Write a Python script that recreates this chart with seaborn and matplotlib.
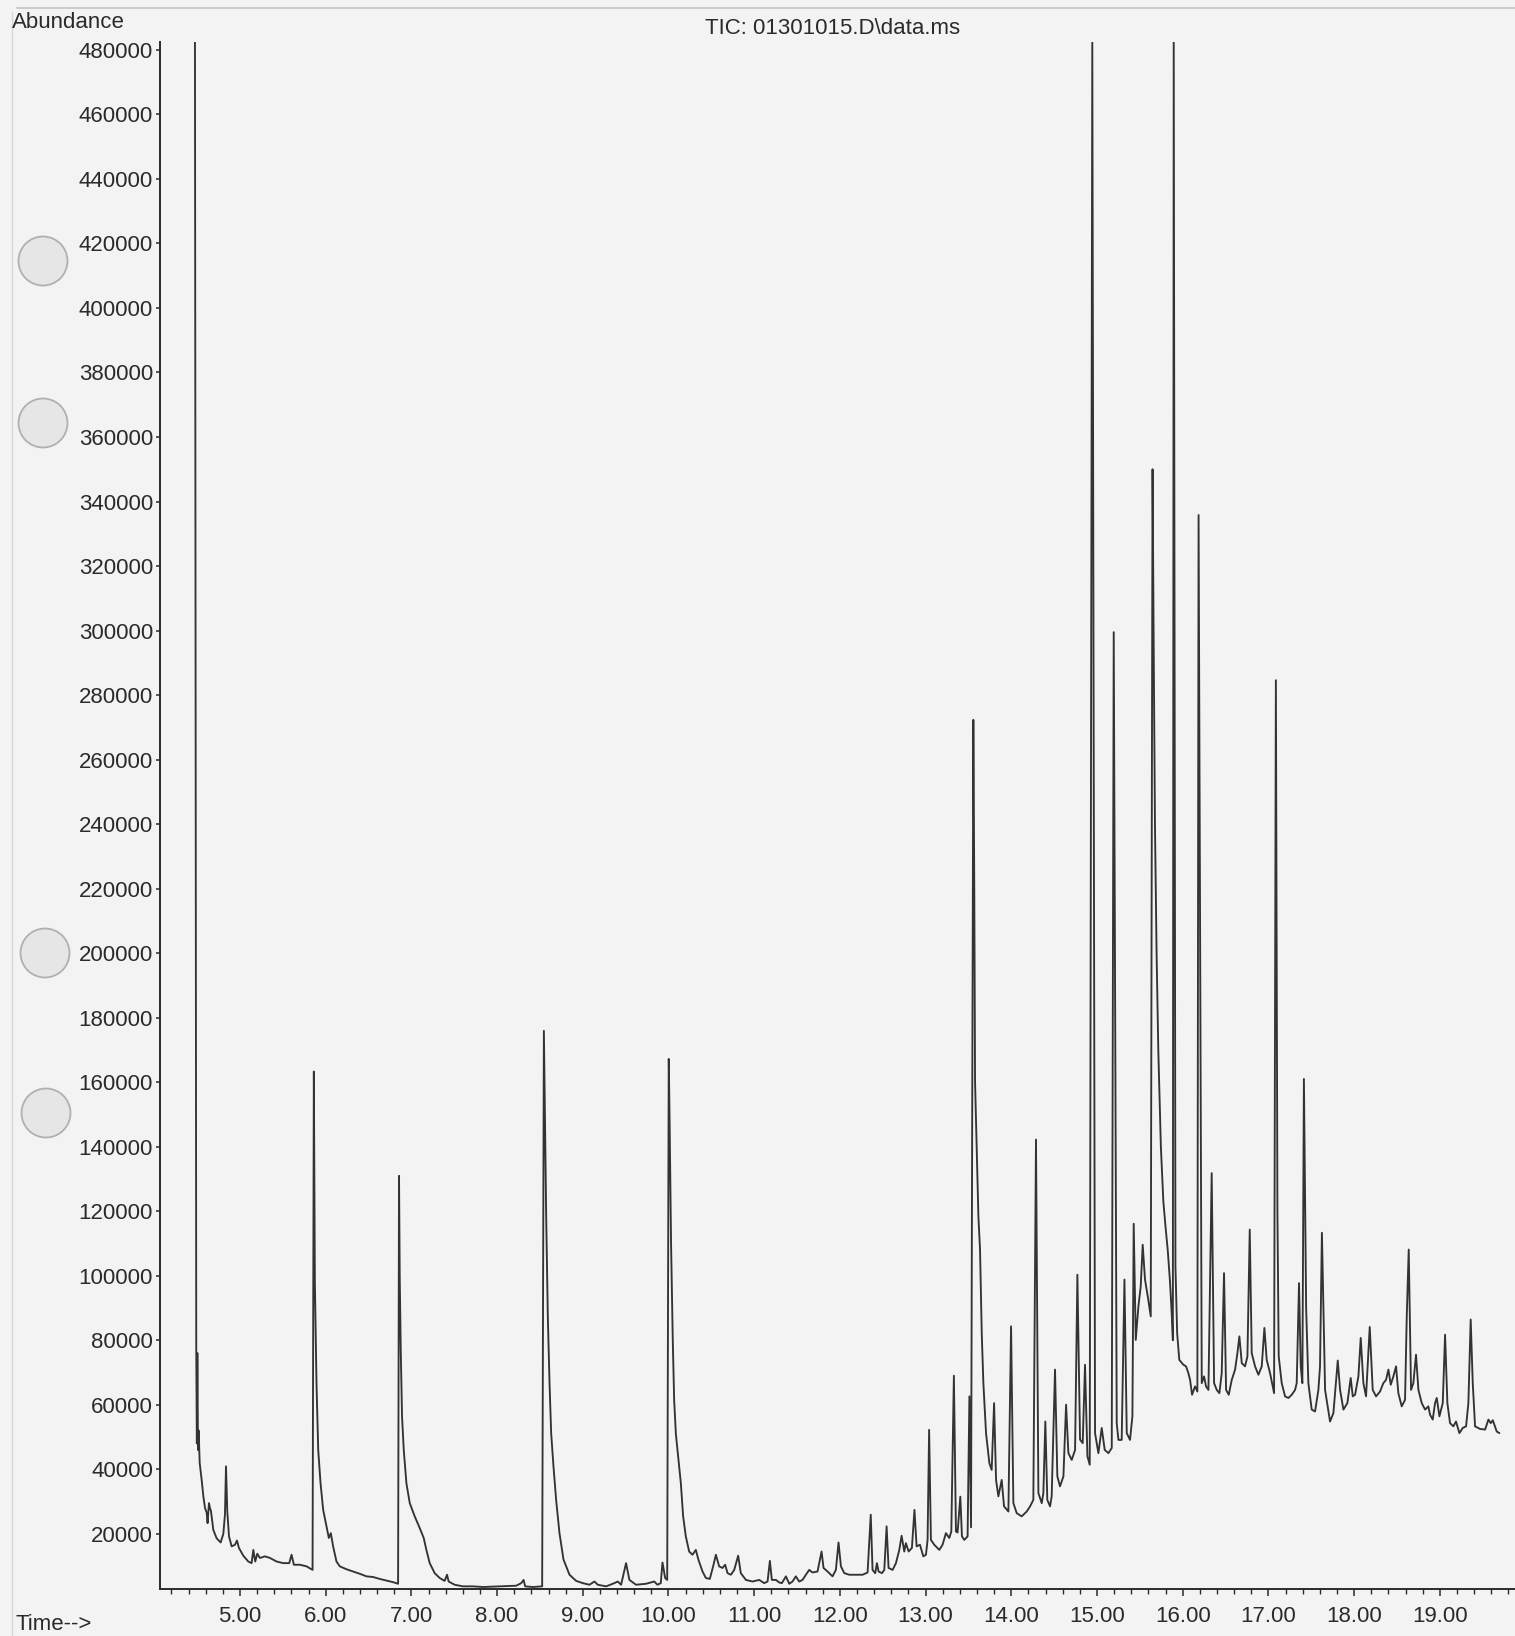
import numpy as np
import pandas as pd
import matplotlib
matplotlib.use("Agg")
import matplotlib.pyplot as plt
import seaborn as sns
from matplotlib.patches import Circle
from matplotlib.lines import Line2D
from matplotlib.ticker import FixedLocator, MultipleLocator

# ---------------- data ----------------
CLIP = 483000  # peaks running off the top of the plot

time_early = [4.475, 4.490, 4.497, 4.503, 4.510, 4.518, 4.530, 4.553, 4.573, 4.592,
              4.612, 4.622, 4.638, 4.650, 4.662, 4.689, 4.728, 4.775, 4.806, 4.825,
              4.837, 4.852, 4.872, 4.903, 4.942, 4.965, 4.988, 5.039, 5.097, 5.136,
              5.156, 5.178, 5.202, 5.233, 5.291, 5.350, 5.427, 5.505, 5.575, 5.602,
              5.629, 5.699, 5.777, 5.847, 5.862, 5.874, 5.893, 5.913, 5.940, 5.971,
              6.010, 6.037, 6.060, 6.087, 6.126, 6.165, 6.243, 6.320, 6.398, 6.476,
              6.553, 6.631, 6.709, 6.786, 6.845, 6.856, 6.864, 6.876, 6.891, 6.911,
              6.942, 6.981, 7.039, 7.097, 7.144, 7.175, 7.214, 7.272, 7.330, 7.388,
              7.416, 7.435, 7.505, 7.602, 7.718, 7.835, 8.029, 8.223, 8.282, 8.309,
              8.328, 8.417, 8.526]
abund_early = [CLIP, 77000, 48000, 76000, 46000, 52000, 42000, 36700, 31600, 28000,
               26500, 23300, 29500, 28000, 27000, 21200, 18600, 17300, 20000, 26000,
               40900, 27000, 19200, 16100, 16600, 17900, 15600, 13200, 11400, 10900,
               15000, 11400, 13800, 12500, 13000, 12500, 11400, 10900, 10900, 13500,
               10400, 10400, 9900, 8800, 163300, 97700, 66700, 46000, 35700, 27400,
               22300, 18700, 20200, 16100, 11400, 9900, 9000, 8300, 7600, 6800,
               6600, 6000, 5500, 5000, 4500, 130950, 99800, 77000, 56400, 46000,
               35700, 29500, 25400, 21800, 18700, 15000, 10900, 7800, 6300, 5400,
               7300, 5200, 4200, 3700, 3700, 3500, 3700, 3900, 4700, 5700,
               3700, 3500, 3700]

time_mid = [8.546, 8.573, 8.592, 8.612, 8.631, 8.658, 8.689, 8.728, 8.775, 8.845,
            8.922, 9.000, 9.078, 9.136, 9.175, 9.272, 9.369, 9.408, 9.447, 9.505,
            9.544, 9.621, 9.738, 9.833, 9.872, 9.910, 9.930, 9.961, 9.985, 10.003,
            10.012, 10.030, 10.050, 10.066, 10.086, 10.105, 10.144, 10.171, 10.202, 10.241,
            10.280, 10.319, 10.350, 10.397, 10.436, 10.482, 10.521, 10.553, 10.591, 10.630,
            10.661, 10.689, 10.728, 10.767, 10.813, 10.844, 10.903, 10.981, 11.058, 11.117,
            11.156, 11.183, 11.206, 11.253, 11.292, 11.323, 11.370, 11.409, 11.447, 11.486,
            11.525, 11.564, 11.603, 11.642, 11.681, 11.739, 11.786, 11.809, 11.856, 11.914,
            11.953, 11.984, 12.012, 12.051, 12.109, 12.187]
abund_mid = [175900, 118400, 87400, 66700, 51200, 40900, 30500, 20200, 12000, 7300,
             5400, 4700, 4200, 5200, 4200, 3700, 4700, 5200, 4200, 10900,
             5700, 4200, 4500, 5200, 4200, 4700, 11100, 6300, 5700, 167200,
             150000, 110000, 80000, 61500, 51000, 46000, 35700, 25400, 19200, 14500,
             13500, 15000, 11900, 8300, 6300, 6000, 9900, 13500, 9900, 9400,
             10400, 7800, 7300, 8800, 13200, 7800, 5700, 5200, 5700, 4700,
             5200, 11600, 5700, 5700, 4900, 4700, 6800, 4500, 5200, 6800,
             5200, 5700, 7300, 8800, 8000, 8300, 14500, 9400, 8300, 6800,
             8800, 17300, 9900, 7800, 7300, 7300]

time_late = [12.265, 12.323, 12.360, 12.381, 12.412, 12.432, 12.451, 12.490, 12.518, 12.545,
             12.568, 12.615, 12.654, 12.693, 12.720, 12.751, 12.770, 12.802, 12.840, 12.870,
             12.895, 12.934, 12.973, 13.004, 13.023, 13.041, 13.062, 13.101, 13.160, 13.198,
             13.237, 13.276, 13.300, 13.330, 13.354, 13.373, 13.405, 13.424, 13.451, 13.490,
             13.511, 13.530, 13.557, 13.568, 13.577, 13.616, 13.635, 13.655, 13.674, 13.705,
             13.744, 13.771, 13.799, 13.822, 13.849, 13.888, 13.915, 13.966, 13.997, 14.024,
             14.063, 14.121, 14.180, 14.219, 14.257, 14.288, 14.316, 14.355, 14.374, 14.397,
             14.420, 14.452, 14.471, 14.510, 14.537, 14.568, 14.608, 14.639, 14.666, 14.705,
             14.744, 14.771, 14.802, 14.833, 14.860, 14.888, 14.915, 14.945, 14.977, 15.016,
             15.055, 15.090, 15.133, 15.172, 15.195, 15.230, 15.250, 15.288, 15.320, 15.347,
             15.385]
abund_late = [7300, 8000, 25900, 8800, 7800, 10900, 8300, 7800, 8800, 22300,
              9400, 8800, 10900, 15000, 19400, 14500, 17100, 14500, 15600, 27400,
              16100, 16600, 13000, 13500, 18100, 52200, 18100, 16600, 15000, 16600,
              20200, 18700, 20700, 69000, 20700, 20400, 31500, 19200, 18100, 19200,
              62600, 22000, 272300, 220000, 160000, 118400, 108100, 82200, 66700, 51200,
              41900, 39800, 60500, 36700, 31600, 36700, 28500, 26900, 84300, 29500,
              26400, 25400, 26900, 28500, 30500, 142200, 32600, 29500, 32600, 54800,
              30500, 28500, 31600, 70900, 37800, 34700, 37800, 60000, 45000, 42900,
              46000, 100300, 49200, 48100, 72400, 44000, 41400, CLIP, 51200, 45000,
              52800, 46000, 45000, 46600, 299500, 54300, 49100, 49100, 98800, 51200,
              49100]

time_tail = [15.413, 15.428, 15.452, 15.483, 15.510, 15.533, 15.560, 15.592, 15.627, 15.648,
             15.660, 15.676, 15.695, 15.715, 15.745, 15.774, 15.800, 15.825, 15.852, 15.872,
             15.885, 15.895, 15.915, 15.935, 15.960, 16.008, 16.039, 16.066, 16.086, 16.109,
             16.144, 16.171, 16.185, 16.222, 16.249, 16.272, 16.300, 16.338, 16.366, 16.397,
             16.428, 16.455, 16.482, 16.506, 16.537, 16.572, 16.611, 16.638, 16.661, 16.689,
             16.727, 16.755, 16.782, 16.805, 16.844, 16.883, 16.922, 16.953, 16.980, 17.019,
             17.066, 17.087, 17.105, 17.120, 17.155, 17.194, 17.233, 17.272, 17.311, 17.330,
             17.357, 17.377, 17.396, 17.414, 17.440, 17.466, 17.505, 17.544, 17.583, 17.602,
             17.624, 17.661, 17.719, 17.758, 17.809, 17.836, 17.875, 17.921, 17.960, 17.984,
             18.011, 18.050, 18.077, 18.108, 18.139, 18.182, 18.217, 18.256, 18.302, 18.341,
             18.372, 18.400, 18.427, 18.458, 18.489, 18.516, 18.555, 18.594, 18.614, 18.637,
             18.664, 18.691, 18.722, 18.750, 18.789, 18.828, 18.866, 18.886, 18.917, 18.944,
             18.964, 18.995, 19.034, 19.061, 19.088, 19.119, 19.158, 19.189, 19.228, 19.267,
             19.306, 19.333, 19.360, 19.384, 19.411, 19.469, 19.528, 19.567, 19.594, 19.618,
             19.664, 19.695]
abund_tail = [56400, 116100, 80100, 90500, 96700, 109600, 98800, 93600, 87400, 350000,
              300000, 240000, 200000, 170000, 140000, 123000, 115000, 108000, 98000, 88000,
              80000, CLIP, 102900, 82200, 73900, 72400, 71900, 69800, 67700, 63100,
              65700, 64100, 335800, 66700, 68800, 65700, 64600, 131800, 66700, 64600,
              63600, 69800, 100800, 64600, 63100, 67700, 70900, 76000, 81200, 72900,
              71900, 75000, 114300, 76000, 71900, 69300, 71900, 83800, 73900, 69800,
              63600, 284600, 120000, 75000, 66700, 62600, 62100, 63100, 64600, 66700,
              97700, 71900, 66700, 161000, 90000, 66700, 58500, 57900, 64600, 71900,
              113300, 64600, 54800, 57400, 73700, 64600, 58500, 60500, 68300, 62600,
              63100, 68800, 80700, 66700, 62600, 84100, 64600, 62600, 64100, 66700,
              67700, 70900, 66200, 68800, 71900, 63600, 59500, 61500, 87400, 108100,
              64600, 66700, 75500, 64600, 60500, 58500, 59500, 56900, 55400, 60500,
              62100, 56400, 60500, 81700, 60500, 54300, 53300, 54800, 51200, 52800,
              53300, 60500, 86400, 66700, 53300, 52500, 52300, 55400, 54300, 55200,
              51700, 51200]

x_major = [5, 6, 7, 8, 9, 10, 11, 12, 13, 14, 15, 16, 17, 18, 19]
y_major = list(range(20000, 480001, 20000))

title_text = "TIC: 01301015.D\\data.ms"
y_title = "Abundance"
x_title = "Time-->"

df = pd.DataFrame({
    "time": time_early + time_mid + time_late + time_tail,
    "abundance": abund_early + abund_mid + abund_late + abund_tail,
})

# ---------------- style ----------------
BG = "#f3f3f3"
INK = "#2a2a2a"
sns.set_style("ticks")
plt.rcParams["font.family"] = ["Liberation Sans", "DejaVu Sans"]

W, H = 1515, 1636
fig = plt.figure(figsize=(W / 100, H / 100), dpi=100, facecolor=BG)
ax_left, ax_right, ax_top, ax_bottom = 160, 1515, 42, 1589
ax = fig.add_axes([ax_left / W, 1 - ax_bottom / H,
                   (ax_right - ax_left) / W, (ax_bottom - ax_top) / H])
ax.set_facecolor(BG)

sns.lineplot(data=df, x="time", y="abundance", ax=ax, color="#333333",
             linewidth=1.35, estimator=None, sort=False, legend=False)

ax.set_xlim(4.067, 19.877)
ax.set_ylim(2880, 482450)
ax.set_xlabel("")
ax.set_ylabel("")

ax.xaxis.set_major_locator(FixedLocator(x_major))
ax.set_xticklabels([f"{v:.2f}" for v in x_major])
ax.xaxis.set_minor_locator(MultipleLocator(0.2))
ax.yaxis.set_major_locator(FixedLocator(y_major))
ax.set_yticklabels([str(v) for v in y_major])

ax.tick_params(axis="x", which="major", length=5, width=1.1, pad=7,
               labelsize=16, colors=INK, direction="out")
ax.tick_params(axis="x", which="minor", length=3.5, width=1.0, colors=INK,
               direction="out")
ax.tick_params(axis="y", which="major", length=3, width=1.1, pad=2,
               labelsize=16, colors=INK, direction="out")

for side in ("top", "right"):
    ax.spines[side].set_visible(False)
for side in ("left", "bottom"):
    ax.spines[side].set_color(INK)
    ax.spines[side].set_linewidth(1.4)

fig.text(12 / W, 1 - 22 / H, y_title, fontsize=16, color=INK, ha="left", va="center")
fig.text(833 / W, 1 - 29 / H, title_text, fontsize=16, color=INK, ha="center", va="center")
fig.text(16 / W, 1 - 1624 / H, x_title, fontsize=16, color=INK, ha="left", va="center")

# scan artefacts: page edges and punch holes
fig.add_artist(Line2D([17 / W, 1.0], [1 - 8 / H, 1 - 8 / H], color="#c4c4c4",
                      linewidth=1.2, transform=fig.transFigure))
fig.add_artist(Line2D([12.5 / W, 12.5 / W], [1 - 12 / H, 0.0], color="#d6d6d6",
                      linewidth=1.0, transform=fig.transFigure))
for cx, cy in [(43, 261), (43, 423), (45, 953), (46, 1113)]:
    fig.add_artist(Circle((cx / 100, (H - cy) / 100), 0.245, transform=fig.dpi_scale_trans,
                          facecolor="#e6e6e6", edgecolor="#b0b0b0", linewidth=1.3))

fig.savefig("out.png", dpi=100, facecolor=BG)
